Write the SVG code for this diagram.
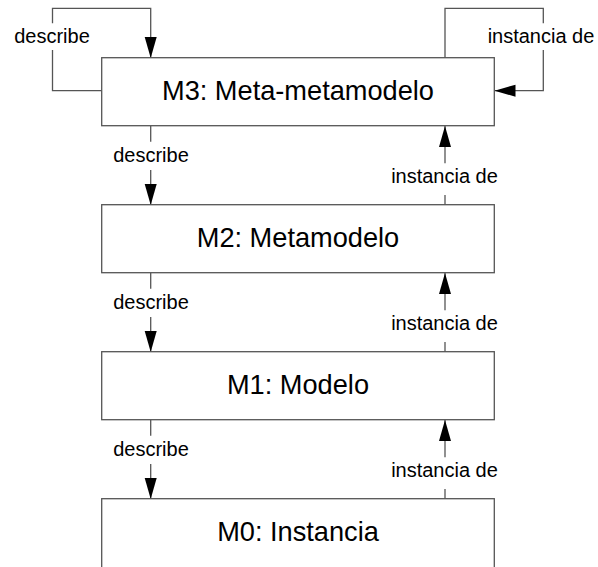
<svg xmlns="http://www.w3.org/2000/svg" width="598" height="567" viewBox="0 0 598 567">
  <style>
    .box { fill: #ffffff; stroke: #555555; stroke-width: 1.3; }
    .title { font-family: "Liberation Sans", Arial, sans-serif; font-size: 27.2px; fill: #000000; text-anchor: middle; }
    .wire { fill: none; stroke: #555555; stroke-width: 1.3; }
    .lbl { font-family: "Liberation Sans", Arial, sans-serif; font-size: 20px; fill: #000000; text-anchor: middle; }
  </style>
  <defs>
    <marker id="head" markerUnits="userSpaceOnUse" markerWidth="22" markerHeight="13" refX="21" refY="6" orient="auto">
      <path d="M0,0 L21,6 L0,12 Z" fill="#000000"/>
    </marker>
  </defs>

  <rect width="598" height="567" fill="#ffffff"/>

  <g id="connectors">
    <!-- M3 self-loop: describe -->
    <path class="wire" d="M101.7,90.7 H52.5 V50"/>
    <path class="wire" d="M52.5,23.3 V8.3 H150.7 V58" marker-end="url(#head)"/>
    <text class="lbl" x="52" y="43">describe</text>

    <!-- M3 self-loop: instancia de -->
    <path class="wire" d="M445,58 V8.3 H543.3 V23.3"/>
    <path class="wire" d="M543.3,50 V90.7 H494.5" marker-end="url(#head)"/>
    <text class="lbl" x="541" y="42.5">instancia de</text>

    <!-- M3 -> M2 describe -->
    <path class="wire" d="M150.7,126 V141.7"/>
    <path class="wire" d="M150.7,170 V205" marker-end="url(#head)"/>
    <text class="lbl" x="151" y="161.7">describe</text>
    <!-- M2 -> M3 instancia de -->
    <path class="wire" d="M445,205 V195"/>
    <path class="wire" d="M445,163.3 V126" marker-end="url(#head)"/>
    <text class="lbl" x="444.5" y="183.3">instancia de</text>

    <!-- M2 -> M1 describe -->
    <path class="wire" d="M150.7,273 V288.7"/>
    <path class="wire" d="M150.7,317 V352" marker-end="url(#head)"/>
    <text class="lbl" x="151" y="308.7">describe</text>
    <!-- M1 -> M2 instancia de -->
    <path class="wire" d="M445,352 V342"/>
    <path class="wire" d="M445,310.3 V273" marker-end="url(#head)"/>
    <text class="lbl" x="444.5" y="330.3">instancia de</text>

    <!-- M1 -> M0 describe -->
    <path class="wire" d="M150.7,420 V435.7"/>
    <path class="wire" d="M150.7,464 V499" marker-end="url(#head)"/>
    <text class="lbl" x="151" y="455.7">describe</text>
    <!-- M0 -> M1 instancia de -->
    <path class="wire" d="M445,499 V489"/>
    <path class="wire" d="M445,457.3 V420" marker-end="url(#head)"/>
    <text class="lbl" x="444.5" y="477.3">instancia de</text>
  </g>

  <g id="m3">
    <rect class="box" x="101.7" y="57.7" width="392.6" height="68"/>
    <text class="title" x="298" y="100.3">M3: Meta-metamodelo</text>
  </g>
  <g id="m2">
    <rect class="box" x="101.7" y="204.7" width="392.6" height="68"/>
    <text class="title" x="298" y="247.3">M2: Metamodelo</text>
  </g>
  <g id="m1">
    <rect class="box" x="101.7" y="351.7" width="392.6" height="68"/>
    <text class="title" x="298" y="394.3">M1: Modelo</text>
  </g>
  <g id="m0">
    <rect class="box" x="101.7" y="498.7" width="392.6" height="72"/>
    <text class="title" x="298" y="541.3">M0: Instancia</text>
  </g>
</svg>
